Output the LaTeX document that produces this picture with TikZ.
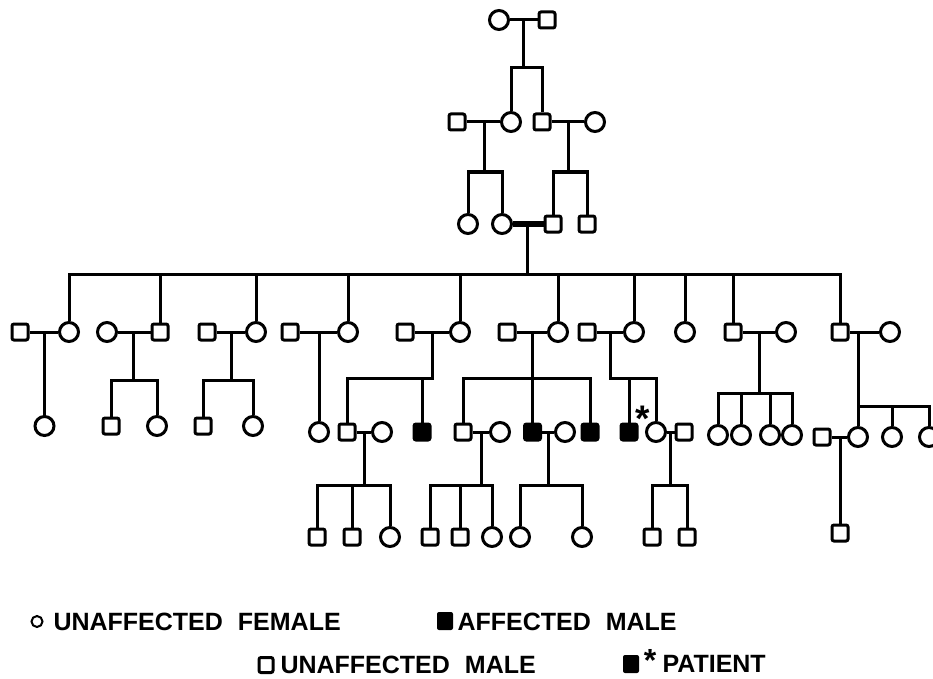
\documentclass[tikz,border=0pt]{standalone}
\usepackage{fontspec}
\setmainfont{Liberation Sans}
\newfontfamily\keyfont{Liberation Sans}
\newcommand\keystyle{\keyfont\bfseries\fontsize{25}{25}\selectfont\spaceskip 15pt\relax}
\usetikzlibrary{calc}

\begin{document}
\begin{tikzpicture}[x=1pt,y=-1pt,line width=3pt]
	  \tikzstyle{female}=[circle,draw=black,line width=3pt,minimum size=19pt,inner sep=0pt]
	  \tikzstyle{male}=[rectangle,draw=black,line width=3pt,rounded corners=2pt,
				  minimum size=16pt,inner sep=0pt]
	  \tikzstyle{affected}=[male,fill=black]
	  \tikzstyle{starmark}=[anchor=north,inner sep=0pt,font=\bfseries\fontsize{37}{37}\selectfont]
	  \tikzstyle{keytext}=[anchor=west,inner sep=0pt,font=\keystyle]
	  \tikzstyle{keybox}=[rectangle,rounded corners=2pt,minimum width=16pt,minimum height=18pt,inner sep=0pt]

	\useasboundingbox (0,0) rectangle (933,679);

	% generation I
	\node (top_f)[female] at (499,20) {};
	\node (top_m)[male] at (547,20) {};
	\draw (top_f) -- (top_m);
	\coordinate (top_mid) at ($(top_f)!.5!(top_m)$);
	\coordinate (top_sib) at (523,68);

	% generation II
	\node (left_m)[male] at (457,122) {};
	\node (left_f)[female] at (511,122) {};
	\node (right_m)[male] at (542,122) {};
	\node (right_f)[female] at (595,122) {};
	\draw (top_mid) -- (top_sib);
	\draw (left_f) |- (top_sib) -| (right_m);
	\draw (left_m) -- (left_f);
	\draw (right_m) -- (right_f);
	\coordinate (left_mid) at ($(left_m)!.5!(left_f)$);
	\coordinate (right_mid) at ($(right_m)!.5!(right_f)$);
	\coordinate (left_sib) at (484,172);
	\coordinate (right_sib) at (568.5,172);

	% parents of the sibship
	\node (gp_f1)[female] at (468,224) {};
	\node (gp_f2)[female] at (502,224) {};
	\node (gp_m1)[male] at (553,224) {};
	\node (gp_m2)[male] at (587,224) {};
	\draw (left_mid) -- (left_sib);
	\draw (gp_f1) |- (left_sib) -| (gp_f2);
	\draw (right_mid) -- (right_sib);
	\draw (gp_m1) |- (right_sib) -| (gp_m2);
	\draw[line width=6pt] (gp_f2) -- (gp_m1);
	\coordinate (gp_mid) at ($(gp_f2)!.5!(gp_m1)$);
	\coordinate (big_sib) at (527.5,274);

	% the sibship and their spouses
	\node (sp1)[male] at (20,332) {};
	\node (sib1)[female] at (69,332) {};
	\node (sp2)[female] at (107,332) {};
	\node (sib2)[male] at (160,332) {};
	\node (sp3)[male] at (207,332) {};
	\node (sib3)[female] at (256,332) {};
	\node (sp4)[male] at (290,332) {};
	\node (sib4)[female] at (348,332) {};
	\node (sp5)[male] at (405,332) {};
	\node (sib5)[female] at (460,332) {};
	\node (sp6)[male] at (507,332) {};
	\node (sib6)[female] at (558,332) {};
	\node (sp7)[male] at (587,332) {};
	\node (sib7)[female] at (634,332) {};
	\node (sib8)[female] at (685,332) {};
	\node (sib9)[male] at (733,332) {};
	\node (sp9)[female] at (786,332) {};
	\node (sib10)[male] at (840,332) {};
	\node (sp10)[female] at (890,332) {};

	\draw (gp_mid) -- (big_sib);
	\draw (sib1) |- (big_sib) -| (sib10);
	\foreach \n in {2,...,9}
		\draw (sib\n) -- (sib\n |- big_sib);
	\foreach \n in {1,2,3,4,5,6,7,9,10} {
		\draw (sp\n) -- (sib\n);
		\coordinate (mid\n) at ($(sp\n)!.5!(sib\n)$);
	}
	\coordinate (mid10) at (858,332);

	% their children
	\node (k1_1)[female] at (44.5,426) {};
	\draw (mid1) -- (k1_1);

	\node (k2_1)[male] at (111,426) {};
	\node (k2_2)[female] at (157,426) {};
	\coordinate (s2) at (133.5,380);
	\draw (mid2) -- (s2);
	\draw (k2_1) |- (s2) -| (k2_2);

	\node (k3_1)[male] at (203,426) {};
	\node (k3_2)[female] at (253,426) {};
	\coordinate (s3) at (231.5,380);
	\draw (mid3) -- (s3);
	\draw (k3_1) |- (s3) -| (k3_2);

	\node (k4_1)[female] at (319,432) {};
	\draw (mid4) -- (k4_1);

	\node (k5_1)[male] at (347,432) {};
	\node (k5_2)[affected] at (422,432) {};
	\coordinate (s5) at (432.5,378);
	\draw (mid5) -- (s5) -| (k5_1);
	\draw (k5_2) -- (k5_2 |- s5);

	\node (k6_1)[male] at (463,432) {};
	\node (k6_2)[affected] at (532.5,432) {};
	\node (k6_3)[affected] at (590,432) {};
	\coordinate (s6) at (532.5,378);
	\draw (mid6) -- (k6_2);
	\draw (k6_1) |- (s6) -| (k6_3);

	\node (k7_1)[affected] at (629,432) {};
	\node (k7_2)[female] at (656,432) {};
	\coordinate (s7) at (610.5,378);
	\draw (mid7) -- (s7) -| (k7_2);
	\draw (k7_1) -- (k7_1 |- s7);
	\node (patient_star)[starmark] at (643,405) {*};

	\node (k9_1)[female] at (718,435) {};
	\node (k9_2)[female] at (741,435) {};
	\node (k9_3)[female] at (770,435) {};
	\node (k9_4)[female] at (792,435) {};
	\coordinate (s9) at (759.5,393);
	\draw (mid9) -- (s9);
	\draw (k9_1) |- (s9) -| (k9_4);
	\draw (k9_2) -- (k9_2 |- s9);
	\draw (k9_3) -- (k9_3 |- s9);

	\node (k10_1)[female] at (858,437) {};
	\node (k10_2)[female] at (892,437) {};
	\node (k10_3)[female] at (929,437) {};
	\coordinate (s10) at (858,406);
	\draw (mid10) -- (k10_1);
	\draw (s10) -| (k10_3);
	\draw (k10_2) -- (k10_2 |- s10);

	% grandchildren
	\node (w5)[female] at (382,432) {};
	\draw (k5_1) -- (w5);
	\coordinate (m5) at ($(k5_1)!.5!(w5)$);
	\coordinate (t5) at (364.5,485);
	\node (g5_1)[male] at (317,537) {};
	\node (g5_2)[male] at (352,537) {};
	\node (g5_3)[female] at (390,537) {};
	\draw (m5) -- (t5);
	\draw (g5_1) |- (t5) -| (g5_3);
	\draw (g5_2) -- (g5_2 |- t5);

	\node (w6a)[female] at (500,432) {};
	\draw (k6_1) -- (w6a);
	\coordinate (m6a) at ($(k6_1)!.5!(w6a)$);
	\coordinate (t6a) at (481.5,485);
	\node (g6a_1)[male] at (430,537) {};
	\node (g6a_2)[male] at (460,537) {};
	\node (g6a_3)[female] at (492,537) {};
	\draw (m6a) -- (t6a);
	\draw (g6a_1) |- (t6a) -| (g6a_3);
	\draw (g6a_2) -- (g6a_2 |- t6a);

	\node (w6b)[female] at (565,432) {};
	\draw (k6_2) -- (w6b);
	\coordinate (m6b) at ($(k6_2)!.5!(w6b)$);
	\coordinate (t6b) at (548.75,485);
	\node (g6b_1)[female] at (520,537) {};
	\node (g6b_2)[female] at (582,537) {};
	\draw (m6b) -- (t6b);
	\draw (g6b_1) |- (t6b) -| (g6b_2);

	\node (h7)[male] at (684,432) {};
	\draw (k7_2) -- (h7);
	\coordinate (m7b) at ($(k7_2)!.5!(h7)$);
	\coordinate (t7b) at (670,485);
	\node (g7_1)[male] at (652,537) {};
	\node (g7_2)[male] at (687,537) {};
	\draw (m7b) -- (t7b);
	\draw (g7_1) |- (t7b) -| (g7_2);

	\node (h10)[male] at (822,437) {};
	\draw (h10) -- (k10_1);
	\coordinate (m10b) at ($(h10)!.5!(k10_1)$);
	\node (g10_1)[male] at (840,533) {};
	\draw (m10b) -- (g10_1);

	% key
	\node (key_female)[circle,draw,line width=2pt,minimum size=11pt,inner sep=0pt] at (37,621.5) {};
	\node (key_female_txt)[keytext] at (52,621.5) {UNAFFECTED FEMALE};
	\node (key_affected)[keybox,fill=black] at (445,621) {};
	\node (key_affected_txt)[keytext] at (456,621.5) {AFFECTED MALE};
	\node (key_male)[keybox,draw,line width=3pt,minimum width=14pt,minimum height=15pt] at (266,665) {};
	\node (key_male_txt)[keytext] at (279,665) {UNAFFECTED MALE};
	\node (key_patient)[keybox,fill=black] at (631,664) {};
	\node (key_star)[starmark,font=\bfseries\fontsize{32}{32}\selectfont] at (650,648) {*};
	\node (key_patient_txt)[keytext] at (661,664) {PATIENT};

		%\draw (k10_3) -- (s10);
	\end{tikzpicture}
\end{document}
